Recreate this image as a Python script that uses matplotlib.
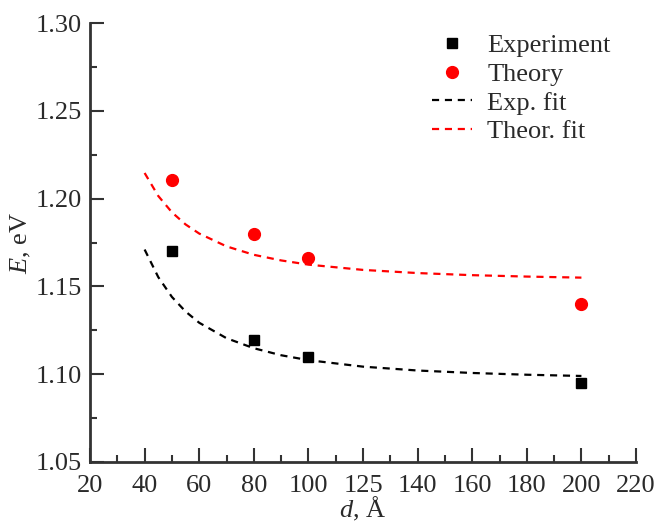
import matplotlib
matplotlib.use("Agg")
import matplotlib.pyplot as plt
from matplotlib.ticker import MultipleLocator, FormatStrFormatter

plt.rcParams['font.family'] = ['Liberation Serif', 'DejaVu Serif']
plt.rcParams['mathtext.fontset'] = 'custom'
plt.rcParams['mathtext.rm'] = 'Liberation Serif'
plt.rcParams['mathtext.it'] = 'Liberation Serif:italic'

# measured points
d_pts = [50, 80, 100, 200]
e_exp = [1.170, 1.1195, 1.110, 1.095]
e_theor = [1.2105, 1.180, 1.166, 1.140]

# fit curves
d_fit = [40, 45, 50, 55, 60, 70, 80, 90, 100, 120, 140, 160, 180, 200]
exp_fit = [1.171, 1.1553, 1.144, 1.1357, 1.1293, 1.1205, 1.1148, 1.1108,
           1.108, 1.1043, 1.1021, 1.1007, 1.0997, 1.099]
theor_fit = [1.2146, 1.2015, 1.1922, 1.1853, 1.1801, 1.1728, 1.168, 1.1648,
             1.1624, 1.1594, 1.1576, 1.1564, 1.1556, 1.155]

x_ticks = [20, 40, 60, 80, 100, 120, 140, 160, 180, 200, 220]
x_ticklabels = ['20', '40', '60', '80', '100', '125', '140', '160', '180', '200', '220']

FS = 19
TXT = '#2a2a2a'

fig = plt.figure(figsize=(6.58, 5.28), dpi=100)
ax = fig.add_axes([0.1368, 0.125, 0.8298, 0.8314])

ax.plot(d_pts, e_exp, 's', color='black', ms=7.5, label='Experiment', zorder=3)
ax.plot(d_pts, e_theor, 'o', color='#ff0000', ms=8.5, label='Theory', zorder=3)
ax.plot(d_fit, exp_fit, '--', color='black', lw=1.6, dashes=(3.2, 2.6), label='Exp. fit')
ax.plot(d_fit, theor_fit, '--', color='#ff0000', lw=1.6, dashes=(3.2, 2.6), label='Theor. fit')

ax.set_xlim(20, 220)
ax.set_ylim(1.05, 1.30)
ax.set_xticks(x_ticks)
ax.set_xticklabels(x_ticklabels)
ax.xaxis.set_minor_locator(MultipleLocator(10))
ax.yaxis.set_major_locator(MultipleLocator(0.05))
ax.yaxis.set_minor_locator(MultipleLocator(0.025))
ax.yaxis.set_major_formatter(FormatStrFormatter('%.2f'))

for s in ['top', 'right']:
    ax.spines[s].set_visible(False)
for s in ['left', 'bottom']:
    ax.spines[s].set_linewidth(2)
    ax.spines[s].set_color('#333333')

ax.tick_params(which='major', direction='in', length=10, width=1.5, color='#333333',
               labelsize=FS, labelcolor=TXT)
ax.tick_params(axis='y', which='major', pad=6)
ax.tick_params(axis='x', which='major', pad=9)
ax.tick_params(which='minor', direction='in', length=5, width=1.5, color='#333333')

ax.set_xlabel('$d$, Å', fontsize=FS, color=TXT, labelpad=-1)
ax.set_ylabel('$E$, eV', fontsize=FS, color=TXT, labelpad=2)

ax.legend(loc='upper right', bbox_to_anchor=(0.973, 1.0), frameon=False, fontsize=FS,
          handlelength=1.5, handletextpad=0.6, labelspacing=0.2, labelcolor=TXT,
          borderaxespad=0.0)

fig.savefig('out.png', dpi=100)
